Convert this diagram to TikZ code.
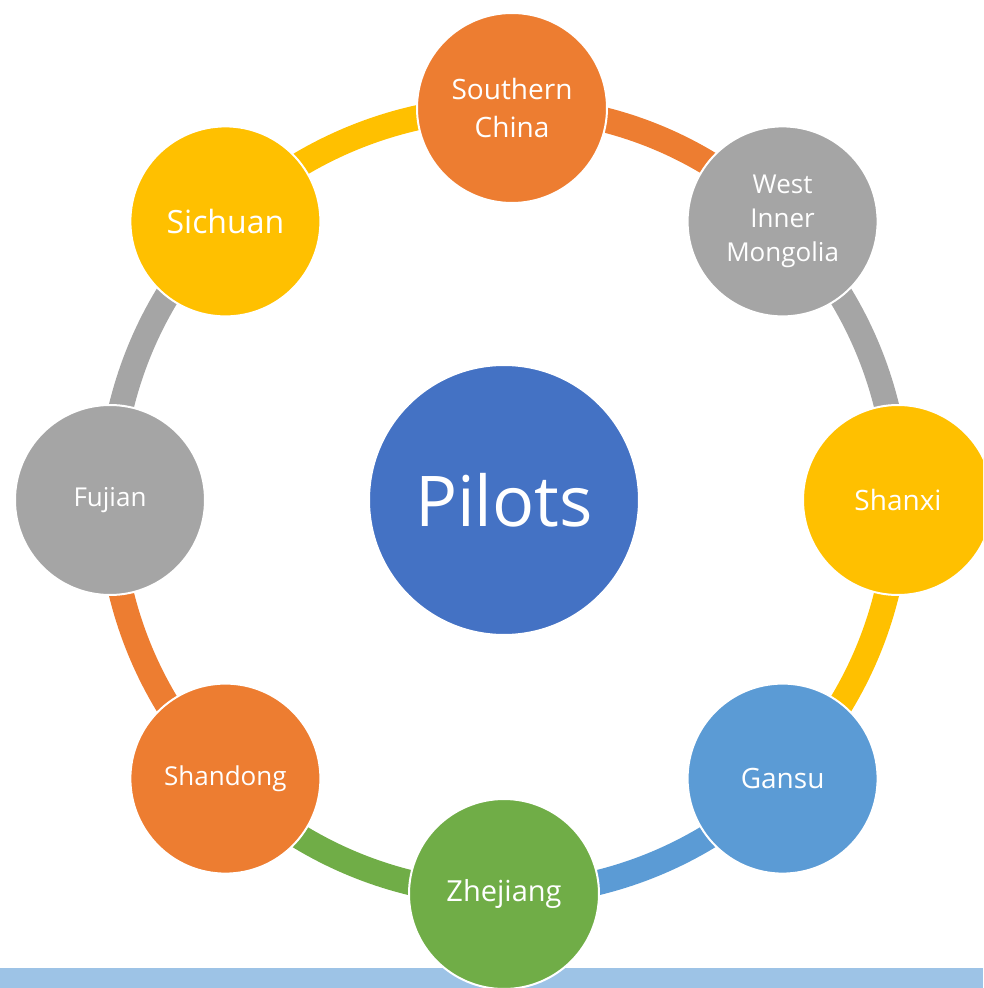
\documentclass[tikz,border=0pt]{standalone}
\usepackage{fontspec}
\setmainfont{Open Sans}
\usetikzlibrary{backgrounds}

\definecolor{pilotblue}{RGB}{68,114,196}
\definecolor{regorange}{RGB}{237,125,49}
\definecolor{reggray}{RGB}{165,165,165}
\definecolor{regyellow}{RGB}{255,192,0}
\definecolor{regblue}{RGB}{91,155,213}
\definecolor{reggreen}{RGB}{112,173,71}
\definecolor{barblue}{RGB}{157,195,230}

\tikzset{
  region/.style={circle, draw=white, line width=2pt, minimum size=190pt,
    inner sep=0pt, text=white, align=center,
    font=\fontsize{26}{34}\selectfont},
  hub/.style={circle, draw=white, line width=2pt, minimum size=270pt,
    inner sep=0pt, text=white, fill=pilotblue,
    font=\fontsize{70}{80}\selectfont},
  ringarc/.style={line width=25pt, bend left=22.5, looseness=0.885},
}

\begin{document}
\begin{tikzpicture}[x=1pt,y=1pt]
\useasboundingbox (-504,-488) rectangle (479,500);
\clip (-504,-488) rectangle (479,500);

% centre
\node[hub] (pilots) at (0,0) {Pilots};

% the ring of pilot regions
\node[region, fill=regorange, font=\fontsize{28}{38}\selectfont] (sc) at (8,392) {Southern\\China};
\node[region, fill=reggray] (wim) at (45:394) {West\\Inner\\Mongolia};
\node[region, fill=regyellow, font=\fontsize{28}{34}\selectfont] (sx) at (0:394) {Shanxi};
\node[region, fill=regblue, font=\fontsize{28}{34}\selectfont] (gs) at (-45:394) {Gansu};
\node[region, fill=reggreen, font=\fontsize{29}{34}\selectfont] (zj) at (-90:394) {Zhejiang};
\node[region, fill=regorange] (sd) at (-135:394) {Shandong};
\node[region, fill=reggray] (fj) at (180:394) {Fujian};
\node[region, fill=regyellow, font=\fontsize{32}{38}\selectfont] (sch) at (135:394) {Sichuan};

\begin{pgfonlayer}{background}
% strip along the bottom
\fill[barblue] (-504,-468) rectangle (479,-488);
% arcs between the regions, clockwise
\draw[ringarc, regorange] (sc.center) to (wim.center);
\draw[ringarc, reggray] (wim.center) to (sx.center);
\draw[ringarc, regyellow] (sx.center) to (gs.center);
\draw[ringarc, regblue] (gs.center) to (zj.center);
\draw[ringarc, reggreen] (zj.center) to (sd.center);
\draw[ringarc, regorange] (sd.center) to (fj.center);
\draw[ringarc, reggray] (fj.center) to (sch.center);
\draw[ringarc, regyellow] (sch.center) to (sc.center);
\end{pgfonlayer}
\end{tikzpicture}
\end{document}
